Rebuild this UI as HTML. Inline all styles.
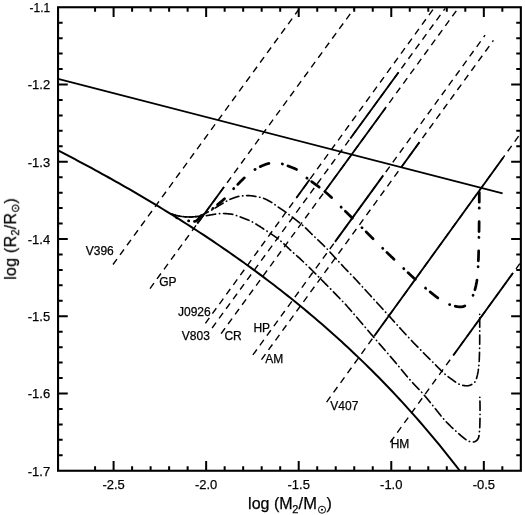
<!DOCTYPE html>
<html><head><meta charset="utf-8"><style>
html,body{margin:0;padding:0;background:#fff;}
svg{display:block;}
text{font-family:"Liberation Sans",sans-serif;fill:#000;stroke:#000;stroke-width:0.25px;}
</style></head><body>
<svg width="525" height="515" viewBox="0 0 525 515">
<rect width="525" height="515" fill="#fff"/>
<path d="M113.00,264.50 L299.66,8.30" stroke="#000" stroke-width="1.4" fill="none" stroke-dasharray="6.7 5.2"/>
<path d="M150.00,288.55 L354.28,8.30" stroke="#000" stroke-width="1.4" fill="none" stroke-dasharray="6.7 5.2"/>
<path d="M197.30,223.66 L224.00,187.03" stroke="#000" stroke-width="1.85" fill="none"/>
<path d="M205.40,323.34 L433.86,8.30" stroke="#000" stroke-width="1.4" fill="none" stroke-dasharray="6.7 5.2"/>
<path d="M296.50,197.72 L309.70,179.51" stroke="#000" stroke-width="1.85" fill="none"/>
<path d="M212.10,327.99 L445.23,8.30" stroke="#000" stroke-width="1.4" fill="none" stroke-dasharray="6.7 5.2"/>
<path d="M350.30,138.47 L398.60,72.24" stroke="#000" stroke-width="1.85" fill="none"/>
<path d="M221.10,333.64 L458.14,8.30" stroke="#000" stroke-width="1.4" fill="none" stroke-dasharray="6.7 5.2"/>
<path d="M324.30,192.00 L385.50,108.00" stroke="#000" stroke-width="1.85" fill="none"/>
<path d="M252.90,354.95 L485.10,35.21" stroke="#000" stroke-width="1.4" fill="none" stroke-dasharray="6.7 5.2"/>
<path d="M335.00,241.90 L383.30,175.39" stroke="#000" stroke-width="1.85" fill="none"/>
<path d="M261.50,359.58 L493.40,40.41" stroke="#000" stroke-width="1.4" fill="none" stroke-dasharray="6.7 5.2"/>
<path d="M401.30,167.17 L419.50,142.12" stroke="#000" stroke-width="1.85" fill="none"/>
<path d="M326.60,402.09 L519.80,134.55" stroke="#000" stroke-width="1.4" fill="none" stroke-dasharray="6.7 5.2"/>
<path d="M374.10,336.32 L503.10,157.68" stroke="#000" stroke-width="1.85" fill="none"/>
<path d="M390.30,442.23 L519.80,263.62" stroke="#000" stroke-width="1.4" fill="none" stroke-dasharray="6.7 5.2"/>
<path d="M453.40,355.20 L513.00,273.00" stroke="#000" stroke-width="1.85" fill="none"/>
<path d="M58.05,78.9 L502.6,193.3" stroke="#000" stroke-width="1.8" fill="none"/>
<path d="M58.05,150.48 L61.42,152.21 L64.80,153.95 L68.17,155.70 L71.55,157.46 L74.92,159.23 L78.30,161.01 L81.67,162.80 L85.04,164.61 L88.42,166.42 L91.79,168.24 L95.17,170.07 L98.54,171.91 L101.92,173.77 L105.29,175.63 L108.67,177.50 L112.04,179.39 L115.41,181.28 L118.79,183.19 L122.16,185.11 L125.54,187.03 L128.91,188.97 L132.29,190.92 L135.66,192.88 L139.03,194.86 L142.41,196.84 L145.78,198.84 L149.16,200.85 L152.53,202.86 L155.91,204.90 L159.28,206.94 L162.66,209.00 L166.03,211.06 L169.40,213.15 L172.78,215.24 L176.15,217.35 L179.53,219.47 L182.90,221.60 L186.28,223.75 L189.65,225.91 L193.02,228.08 L196.40,230.27 L199.77,232.48 L203.15,234.69 L206.52,236.93 L209.90,239.17 L213.27,241.44 L216.65,243.72 L220.02,246.01 L223.39,248.32 L226.77,250.65 L230.14,252.99 L233.52,255.35 L236.89,257.73 L240.27,260.12 L243.64,262.53 L247.01,264.96 L250.39,267.41 L253.76,269.88 L257.14,272.36 L260.51,274.87 L263.89,277.39 L267.26,279.93 L270.64,282.50 L274.01,285.08 L277.38,287.69 L280.76,290.31 L284.13,292.96 L287.51,295.63 L290.88,298.32 L294.26,301.03 L297.63,303.77 L301.00,306.53 L304.38,309.31 L307.75,312.12 L311.13,314.95 L314.50,317.80 L317.88,320.69 L321.25,323.59 L324.63,326.52 L328.00,329.48 L331.37,332.47 L334.75,335.48 L338.12,338.52 L341.50,341.59 L344.87,344.69 L348.25,347.82 L351.62,350.97 L354.99,354.16 L358.37,357.37 L361.74,360.62 L365.12,363.90 L368.49,367.21 L371.87,370.55 L375.24,373.93 L378.62,377.33 L381.99,380.78 L385.36,384.25 L388.74,387.76 L392.11,391.31 L395.49,394.89 L398.86,398.51 L402.24,402.17 L405.61,405.86 L408.98,409.59 L412.36,413.36 L415.73,417.17 L419.11,421.02 L422.48,424.90 L425.86,428.83 L429.23,432.80 L432.61,436.81 L435.98,440.87 L439.35,444.97 L442.73,449.11 L446.10,453.29 L449.48,457.53 L452.85,461.80 L456.23,466.12 L459.60,470.49" stroke="#000" stroke-width="2" fill="none"/>
<path d="M176.70,217.71 L176.77,217.75 L176.79,217.76" stroke="#000" stroke-width="2.75" fill="none" stroke-linecap="round"/>
<path d="M188.50,220.89 L188.56,220.90 L188.70,220.92 L188.75,220.93" stroke="#000" stroke-width="2.75" fill="none" stroke-linecap="round"/>
<path d="M194.45,221.45 L194.47,221.45 L194.54,221.43 L194.61,221.42 L194.69,221.41 L194.76,221.40 L194.82,221.38 L194.89,221.37 L194.96,221.35 L195.03,221.33 L195.10,221.32 L195.17,221.30 L195.23,221.28 L195.30,221.26 L195.37,221.24 L195.43,221.22 L195.50,221.20 L195.57,221.18 L195.63,221.16 L195.69,221.13 L195.76,221.11 L195.82,221.09 L195.88,221.06 L195.93,221.04 L195.99,221.01 L196.05,220.98 L196.10,220.96 L196.16,220.93 L196.21,220.90 L196.26,220.87 L196.32,220.84 L196.37,220.81 L196.42,220.78 L196.47,220.75 L196.52,220.72 L196.57,220.69 L196.62,220.65 L196.67,220.62 L196.72,220.58 L196.77,220.54 L196.82,220.51 L196.87,220.47 L196.91,220.43 L196.96,220.38 L197.01,220.34 L197.06,220.30 L197.12,220.25 L197.17,220.21 L197.22,220.16 L197.27,220.11 L197.32,220.07 L197.38,220.01 L197.43,219.96 L197.49,219.91 L197.54,219.86 L197.60,219.80 L197.66,219.74 L197.71,219.68 L197.77,219.62 L197.83,219.56 L197.88,219.49 L197.94,219.43 L197.99,219.36 L198.05,219.29 L198.10,219.22 L198.16,219.14 L198.21,219.07 L198.26,218.99 L198.32,218.92 L198.37,218.84 L198.43,218.76 L198.48,218.68 L198.54,218.60 L198.60,218.52 L198.65,218.44 L198.71,218.36 L198.77,218.28 L198.83,218.19 L198.89,218.11 L198.95,218.03 L199.01,217.94 L199.07,217.86 L199.13,217.78 L199.20,217.69 L199.26,217.61 L199.33,217.53 L199.40,217.44 L199.47,217.36 L199.54,217.28 L199.61,217.20 L199.69,217.12 L199.76,217.04 L199.84,216.96 L199.92,216.88 L200.00,216.80 L200.08,216.72 L200.17,216.65 L200.25,216.57 L200.34,216.49 L200.42,216.42 L200.51,216.34 L200.60,216.26 L200.69,216.19 L200.78,216.11 L200.87,216.03 L200.97,215.96 L201.06,215.88 L201.16,215.80 L201.25,215.73 L201.35,215.65 L201.41,215.61" stroke="#000" stroke-width="2.75" fill="none" stroke-linecap="round"/>
<path d="M212.81,208.51 L212.84,208.48 L212.96,208.39 L213.01,208.36" stroke="#000" stroke-width="2.75" fill="none" stroke-linecap="round"/>
<path d="M217.46,204.73 L217.50,204.70 L217.62,204.59 L217.74,204.49 L217.86,204.39 L217.98,204.28 L218.10,204.17 L218.23,204.07 L218.35,203.96 L218.48,203.85 L218.61,203.74 L218.74,203.63 L218.87,203.51 L219.00,203.40 L219.13,203.29 L219.27,203.17 L219.40,203.06 L219.53,202.95 L219.66,202.85 L219.80,202.74 L219.93,202.63 L220.06,202.52 L220.20,202.42 L220.33,202.31 L220.46,202.20 L220.60,202.10 L220.73,201.99 L220.87,201.88 L221.01,201.77 L221.14,201.66 L221.28,201.55 L221.42,201.44 L221.57,201.32 L221.71,201.20 L221.85,201.09 L222.00,200.96 L222.15,200.84 L222.30,200.72 L222.45,200.59 L222.60,200.46 L222.75,200.32 L222.91,200.18 L223.07,200.04 L223.23,199.90 L223.40,199.75 L223.56,199.60 L223.73,199.44 L223.90,199.28 L224.08,199.11 L224.25,198.94 L224.43,198.77 L224.54,198.66" stroke="#000" stroke-width="2.75" fill="none" stroke-linecap="round"/>
<path d="M233.59,188.71 L233.60,188.70 L233.76,188.53" stroke="#000" stroke-width="2.75" fill="none" stroke-linecap="round"/>
<path d="M237.75,184.39 L237.85,184.28 L238.15,183.98 L238.45,183.67 L238.75,183.36 L239.05,183.05 L239.36,182.74 L239.66,182.43 L239.97,182.12 L240.27,181.82 L240.58,181.51 L240.88,181.21 L241.19,180.91 L241.49,180.61 L241.79,180.32 L242.09,180.02 L242.39,179.73 L242.69,179.45 L242.99,179.16 L243.28,178.88 L243.57,178.61 L243.86,178.34 L244.15,178.07 L244.39,177.85" stroke="#000" stroke-width="2.75" fill="none" stroke-linecap="round"/>
<path d="M254.95,169.53 L255.06,169.46 L255.16,169.39" stroke="#000" stroke-width="2.75" fill="none" stroke-linecap="round"/>
<path d="M260.19,166.63 L260.25,166.61 L260.47,166.50 L260.70,166.40 L260.92,166.30 L261.13,166.21 L261.35,166.11 L261.57,166.02 L261.78,165.93 L261.99,165.83 L262.20,165.75 L262.41,165.66 L262.62,165.57 L262.82,165.49 L263.02,165.40 L263.22,165.32 L263.42,165.24 L263.62,165.16 L263.81,165.08 L264.00,165.00 L264.19,164.92 L264.37,164.85 L264.55,164.78 L264.73,164.71 L264.91,164.64 L265.08,164.57 L265.25,164.51 L265.42,164.44 L265.59,164.38 L265.75,164.32 L265.92,164.27 L266.08,164.21 L266.23,164.16 L266.39,164.11 L266.54,164.06 L266.70,164.01 L266.85,163.96 L267.00,163.92 L267.15,163.87 L267.30,163.83 L267.45,163.79 L267.59,163.75 L267.74,163.71 L267.89,163.67 L268.03,163.63 L268.18,163.60 L268.32,163.56 L268.47,163.53 L268.61,163.49 L268.76,163.46 L268.91,163.43 L268.93,163.42" stroke="#000" stroke-width="2.75" fill="none" stroke-linecap="round"/>
<path d="M282.24,163.94 L282.31,163.96 L282.48,164.01" stroke="#000" stroke-width="2.75" fill="none" stroke-linecap="round"/>
<path d="M287.91,165.90 L288.03,165.94 L288.30,166.05 L288.58,166.15 L288.85,166.26 L289.12,166.36 L289.38,166.46 L289.65,166.56 L289.90,166.66 L290.16,166.76 L290.41,166.86 L290.65,166.96 L290.89,167.05 L291.13,167.15 L291.36,167.24 L291.58,167.33 L291.79,167.42 L292.00,167.50 L292.20,167.58 L292.39,167.66 L292.58,167.73 L292.76,167.80 L292.94,167.87 L293.11,167.94 L293.28,168.00 L293.44,168.06 L293.59,168.12 L293.75,168.18 L293.90,168.23 L294.04,168.29 L294.19,168.34 L294.33,168.40 L294.46,168.45 L294.60,168.51 L294.74,168.56 L294.87,168.62 L295.00,168.67 L295.13,168.73 L295.27,168.79 L295.40,168.85 L295.53,168.91 L295.67,168.97 L295.80,169.04 L295.94,169.11 L296.08,169.18 L296.22,169.26 L296.36,169.34 L296.50,169.42 L296.53,169.44" stroke="#000" stroke-width="2.75" fill="none" stroke-linecap="round"/>
<path d="M306.84,178.03 L307.04,178.19" stroke="#000" stroke-width="2.75" fill="none" stroke-linecap="round"/>
<path d="M311.66,181.62 L311.88,181.78 L312.29,182.08 L312.70,182.37 L313.11,182.67 L313.53,182.97 L313.94,183.27 L314.36,183.57 L314.78,183.87 L315.19,184.17 L315.61,184.47 L316.03,184.77 L316.44,185.07 L316.85,185.37 L317.26,185.67 L317.67,185.97 L318.07,186.27 L318.47,186.56 L318.87,186.86 L319.20,187.10" stroke="#000" stroke-width="2.75" fill="none" stroke-linecap="round"/>
<path d="M324.82,191.55 L325.00,191.71 L325.31,191.96 L325.61,192.21 L325.91,192.47 L326.20,192.72 L326.50,192.97 L326.79,193.22 L327.08,193.47 L327.37,193.72 L327.65,193.96 L327.93,194.21 L328.22,194.46 L328.49,194.70 L328.77,194.95 L329.05,195.19 L329.32,195.43 L329.59,195.68 L329.86,195.92 L330.13,196.16 L330.40,196.40 L330.66,196.64 L330.93,196.89 L331.19,197.13 L331.45,197.37 L331.60,197.50" stroke="#000" stroke-width="2.75" fill="none" stroke-linecap="round"/>
<path d="M341.06,207.05 L341.19,207.19 L341.23,207.23" stroke="#000" stroke-width="2.75" fill="none" stroke-linecap="round"/>
<path d="M345.33,211.26 L345.46,211.39 L345.77,211.69 L346.08,211.99 L346.40,212.29 L346.71,212.60 L347.03,212.90 L347.34,213.21 L347.66,213.52 L347.97,213.82 L348.29,214.13 L348.60,214.43 L348.92,214.73 L349.23,215.04 L349.54,215.34 L349.85,215.64 L350.16,215.93 L350.46,216.23 L350.76,216.52 L351.06,216.81 L351.35,217.10 L351.65,217.38 L351.93,217.66 L352.22,217.94 L352.38,218.09" stroke="#000" stroke-width="2.75" fill="none" stroke-linecap="round"/>
<path d="M361.90,227.60 L362.00,227.70 L362.07,227.77" stroke="#000" stroke-width="2.75" fill="none" stroke-linecap="round"/>
<path d="M366.14,231.84 L366.20,231.90 L366.53,232.23 L366.85,232.56 L367.18,232.88 L367.51,233.21 L367.84,233.54 L368.16,233.87 L368.49,234.20 L368.82,234.53 L369.15,234.86 L369.47,235.18 L369.80,235.51 L370.12,235.83 L370.44,236.15 L370.76,236.47 L371.08,236.78 L371.39,237.10 L371.70,237.40 L372.00,237.71 L372.30,238.01 L372.60,238.30 L372.89,238.59 L373.08,238.78" stroke="#000" stroke-width="2.75" fill="none" stroke-linecap="round"/>
<path d="M382.64,248.24 L382.70,248.30 L382.82,248.41" stroke="#000" stroke-width="2.75" fill="none" stroke-linecap="round"/>
<path d="M386.94,252.42 L387.37,252.84 L387.91,253.37 L388.47,253.90 L389.03,254.45 L389.61,255.01 L390.18,255.57 L390.77,256.13 L391.36,256.70 L391.95,257.28 L392.55,257.85 L393.14,258.43 L393.74,259.01 L393.99,259.25" stroke="#000" stroke-width="2.75" fill="none" stroke-linecap="round"/>
<path d="M403.69,268.57 L403.81,268.69 L403.87,268.75" stroke="#000" stroke-width="2.75" fill="none" stroke-linecap="round"/>
<path d="M408.05,272.69 L408.12,272.75 L408.43,273.04 L408.74,273.33 L409.04,273.61 L409.34,273.89 L409.64,274.16 L409.93,274.43 L410.21,274.69 L410.49,274.95 L410.77,275.21 L411.05,275.47 L411.33,275.72 L411.60,275.97 L411.87,276.21 L412.14,276.46 L412.41,276.71 L412.68,276.95 L412.95,277.19 L413.21,277.43 L413.48,277.68 L413.75,277.92 L414.02,278.16 L414.29,278.41 L414.57,278.65 L414.84,278.90 L415.12,279.15 L415.30,279.31" stroke="#000" stroke-width="2.75" fill="none" stroke-linecap="round"/>
<path d="M425.50,288.08 L425.69,288.24" stroke="#000" stroke-width="2.75" fill="none" stroke-linecap="round"/>
<path d="M430.13,291.89 L430.32,292.04 L430.70,292.36 L431.08,292.67 L431.47,292.98 L431.85,293.29 L432.24,293.61 L432.62,293.92 L433.01,294.23 L433.40,294.54 L433.78,294.84 L434.16,295.15 L434.54,295.45 L434.92,295.74 L435.29,296.04 L435.66,296.33 L436.03,296.61 L436.39,296.89 L436.75,297.16 L437.11,297.43 L437.45,297.69 L437.80,297.95 L437.83,297.97" stroke="#000" stroke-width="2.75" fill="none" stroke-linecap="round"/>
<path d="M449.51,304.54 L449.67,304.59 L449.75,304.62" stroke="#000" stroke-width="2.75" fill="none" stroke-linecap="round"/>
<path d="M455.26,306.25 L455.31,306.27 L455.58,306.32 L455.84,306.38 L456.10,306.43 L456.36,306.48 L456.62,306.52 L456.87,306.57 L457.12,306.60 L457.37,306.64 L457.61,306.67 L457.85,306.70 L458.09,306.73 L458.32,306.75 L458.55,306.77 L458.78,306.79 L459.00,306.80 L459.22,306.81 L459.43,306.82 L459.64,306.83 L459.85,306.84 L460.05,306.84 L460.25,306.85 L460.45,306.85 L460.64,306.85 L460.83,306.85 L461.02,306.85 L461.20,306.85 L461.39,306.84 L461.57,306.83 L461.75,306.82 L461.92,306.80 L462.10,306.78 L462.27,306.76 L462.44,306.74 L462.61,306.71 L462.78,306.68 L462.95,306.64 L463.12,306.60 L463.29,306.56 L463.46,306.51 L463.62,306.45 L463.79,306.39 L463.96,306.33 L464.12,306.26 L464.29,306.18 L464.45,306.10 L464.62,306.02 L464.79,305.93 L464.86,305.88" stroke="#000" stroke-width="2.75" fill="none" stroke-linecap="round"/>
<path d="M473.02,295.43 L473.04,295.37 L473.11,295.20" stroke="#000" stroke-width="2.75" fill="none" stroke-linecap="round"/>
<path d="M474.92,289.74 L474.96,289.56 L475.08,289.13 L475.19,288.70 L475.30,288.27 L475.41,287.83 L475.52,287.39 L475.62,286.95 L475.72,286.51 L475.83,286.06 L475.93,285.62 L476.02,285.17 L476.12,284.72 L476.21,284.27 L476.30,283.83 L476.39,283.38 L476.48,282.93 L476.56,282.48 L476.65,282.04 L476.73,281.59 L476.81,281.15 L476.88,280.71 L476.96,280.27 L476.98,280.15" stroke="#000" stroke-width="2.75" fill="none" stroke-linecap="round"/>
<path d="M478.11,266.76 L478.12,266.51" stroke="#000" stroke-width="2.75" fill="none" stroke-linecap="round"/>
<path d="M478.35,260.76 L478.37,260.47 L478.39,259.95 L478.41,259.43 L478.43,258.90 L478.45,258.37 L478.47,257.84 L478.49,257.30 L478.50,256.76 L478.52,256.21 L478.54,255.67 L478.56,255.12 L478.57,254.57 L478.59,254.01 L478.60,253.45 L478.62,252.89 L478.63,252.33 L478.65,251.76 L478.66,251.19 L478.67,250.95" stroke="#000" stroke-width="2.75" fill="none" stroke-linecap="round"/>
<path d="M478.94,237.50 L478.95,237.25" stroke="#000" stroke-width="2.75" fill="none" stroke-linecap="round"/>
<path d="M479.03,231.51 L479.04,231.23 L479.05,230.58 L479.05,229.93 L479.06,229.28 L479.07,228.63 L479.08,227.98 L479.08,227.33 L479.09,226.68 L479.10,226.02 L479.11,225.37 L479.11,224.72 L479.12,224.06 L479.13,223.41 L479.13,222.75 L479.14,222.10 L479.14,221.69" stroke="#000" stroke-width="2.75" fill="none" stroke-linecap="round"/>
<path d="M479.24,208.24 L479.24,208.05 L479.24,207.99" stroke="#000" stroke-width="2.75" fill="none" stroke-linecap="round"/>
<path d="M479.26,202.24 L479.27,201.78 L479.27,201.15 L479.27,200.53 L479.27,199.90 L479.27,199.27 L479.27,198.65 L479.28,198.02 L479.28,197.40 L479.28,196.77 L479.28,196.14 L479.28,195.52 L479.28,194.89 L479.29,194.26 L479.29,193.64 L479.29,193.01 L479.29,192.43" stroke="#000" stroke-width="2.75" fill="none" stroke-linecap="round"/>
<path d="M170.78,213.76 L170.90,213.79 L171.03,213.84 L171.15,213.88 L171.28,213.92 L171.41,213.97 L171.54,214.01 L171.67,214.05 L171.79,214.10 L171.92,214.14 L172.05,214.18 L172.18,214.22 L172.31,214.27 L172.44,214.31 L172.56,214.35 L172.69,214.39 L172.82,214.44 L172.95,214.48 L173.08,214.52 L173.21,214.56 L173.33,214.60 L173.46,214.64 L173.59,214.69 L173.72,214.73 L173.85,214.76 L173.97,214.80 L174.10,214.84 L174.23,214.88 L174.36,214.92 L174.49,214.96 L174.62,214.99 L174.74,215.03 L174.87,215.07 L175.00,215.10 L175.13,215.13 L175.14,215.14" stroke="#000" stroke-width="1.65" fill="none" stroke-linecap="round"/>
<path d="M178.79,215.98 L178.85,215.99 L178.97,216.02 L179.10,216.04 L179.14,216.05" stroke="#000" stroke-width="1.65" fill="none" stroke-linecap="round"/>
<path d="M182.85,216.60 L182.95,216.61 L183.08,216.62 L183.21,216.63 L183.33,216.65 L183.46,216.66 L183.59,216.67 L183.72,216.69 L183.85,216.70 L183.97,216.71 L184.10,216.72 L184.23,216.73 L184.36,216.75 L184.49,216.76 L184.62,216.77 L184.74,216.78 L184.87,216.79 L185.00,216.80 L185.13,216.81 L185.26,216.82 L185.39,216.83 L185.52,216.84 L185.65,216.85 L185.78,216.86 L185.91,216.87 L186.04,216.87 L186.17,216.88 L186.31,216.89 L186.44,216.90 L186.57,216.90 L186.70,216.91 L186.84,216.92 L186.97,216.92 L187.10,216.93 L187.23,216.94 L187.37,216.94 L187.50,216.95 L187.63,216.95 L187.76,216.96 L187.89,216.96 L188.02,216.97 L188.15,216.97 L188.28,216.97 L188.41,216.98 L188.54,216.98 L188.66,216.98 L188.79,216.99 L188.91,216.99 L189.04,216.99 L189.16,216.99 L189.29,217.00 L189.41,217.00 L189.53,217.00 L189.65,217.00 L189.77,217.00 L189.88,217.00 L190.00,217.00 L190.11,217.00 L190.23,217.00 L190.34,217.00 L190.45,217.00 L190.56,217.00 L190.66,217.00 L190.77,216.99 L190.87,216.99 L190.97,216.99 L191.08,216.99 L191.18,216.98 L191.28,216.98 L191.38,216.98 L191.48,216.97 L191.57,216.97 L191.67,216.97 L191.77,216.96 L191.87,216.96 L191.96,216.95 L192.06,216.95 L192.16,216.94 L192.16,216.94" stroke="#000" stroke-width="1.65" fill="none" stroke-linecap="round"/>
<path d="M195.90,216.62 L195.99,216.61 L196.12,216.60 L196.24,216.59" stroke="#000" stroke-width="1.65" fill="none" stroke-linecap="round"/>
<path d="M199.92,215.89 L199.96,215.87 L200.03,215.85 L200.11,215.82 L200.19,215.79 L200.26,215.76 L200.34,215.73 L200.41,215.70 L200.49,215.67 L200.56,215.64 L200.64,215.61 L200.71,215.58 L200.78,215.55 L200.86,215.51 L200.93,215.48 L201.01,215.45 L201.08,215.41 L201.16,215.38 L201.24,215.34 L201.32,215.31 L201.40,215.27 L201.48,215.23 L201.56,215.20 L201.65,215.16 L201.73,215.12 L201.82,215.08 L201.91,215.04 L202.00,215.00 L202.09,214.96 L202.19,214.92 L202.28,214.87 L202.37,214.83 L202.47,214.79 L202.56,214.74 L202.66,214.69 L202.76,214.65 L202.85,214.60 L202.95,214.55 L203.05,214.51 L203.15,214.46 L203.25,214.41 L203.35,214.36 L203.45,214.31 L203.55,214.26 L203.65,214.21 L203.75,214.15 L203.85,214.10 L203.96,214.05 L204.06,214.00 L204.16,213.94 L204.27,213.89 L204.37,213.83 L204.48,213.78 L204.59,213.73 L204.69,213.67 L204.80,213.62 L204.91,213.56 L205.01,213.51 L205.12,213.45 L205.23,213.39 L205.34,213.34 L205.45,213.28 L205.56,213.23 L205.67,213.17 L205.78,213.11 L205.89,213.06 L206.00,213.00 L206.11,212.94 L206.23,212.89 L206.34,212.83 L206.46,212.77 L206.57,212.71 L206.69,212.65 L206.81,212.59 L206.93,212.54 L207.05,212.48 L207.17,212.42 L207.29,212.36 L207.41,212.29 L207.53,212.23 L207.65,212.17 L207.77,212.11 L207.90,212.05 L208.02,211.99 L208.15,211.92 L208.27,211.86 L208.32,211.84" stroke="#000" stroke-width="1.65" fill="none" stroke-linecap="round"/>
<path d="M211.63,210.08 L211.71,210.04 L211.81,209.98 L211.92,209.92 L211.94,209.91" stroke="#000" stroke-width="1.65" fill="none" stroke-linecap="round"/>
<path d="M215.17,208.00 L215.24,207.96 L215.36,207.88 L215.48,207.81 L215.60,207.73 L215.72,207.66 L215.84,207.58 L215.97,207.51 L216.09,207.43 L216.21,207.35 L216.34,207.28 L216.46,207.20 L216.59,207.12 L216.71,207.04 L216.84,206.97 L216.96,206.89 L217.09,206.81 L217.21,206.73 L217.34,206.65 L217.47,206.57 L217.60,206.49 L217.73,206.40 L217.86,206.32 L217.99,206.24 L218.12,206.16 L218.25,206.08 L218.38,206.00 L218.51,205.91 L218.64,205.83 L218.78,205.75 L218.91,205.67 L219.04,205.58 L219.18,205.50 L219.31,205.42 L219.45,205.33 L219.59,205.25 L219.72,205.17 L219.86,205.08 L220.00,205.00 L220.14,204.92 L220.28,204.83 L220.43,204.74 L220.58,204.66 L220.73,204.57 L220.88,204.48 L221.03,204.39 L221.19,204.29 L221.34,204.20 L221.50,204.11 L221.66,204.01 L221.82,203.92 L221.98,203.83 L222.14,203.73 L222.30,203.64 L222.47,203.54 L222.63,203.45 L222.79,203.35 L222.95,203.26 L223.11,203.17 L223.14,203.15" stroke="#000" stroke-width="1.65" fill="none" stroke-linecap="round"/>
<path d="M226.37,201.25 L226.37,201.25 L226.45,201.20 L226.53,201.15 L226.60,201.11 L226.66,201.06" stroke="#000" stroke-width="1.65" fill="none" stroke-linecap="round"/>
<path d="M229.99,199.36 L230.11,199.31 L230.27,199.24 L230.43,199.18 L230.60,199.11 L230.77,199.04 L230.94,198.98 L231.11,198.91 L231.29,198.84 L231.46,198.78 L231.64,198.71 L231.81,198.64 L231.99,198.57 L232.17,198.51 L232.35,198.44 L232.52,198.37 L232.70,198.31 L232.88,198.24 L233.05,198.18 L233.23,198.12 L233.40,198.05 L233.57,197.99 L233.74,197.93 L233.91,197.87 L234.07,197.82 L234.24,197.76 L234.40,197.70 L234.55,197.65 L234.70,197.60 L234.85,197.55 L235.00,197.50 L235.14,197.45 L235.28,197.41 L235.41,197.36 L235.54,197.32 L235.67,197.27 L235.79,197.23 L235.92,197.19 L236.03,197.15 L236.15,197.11 L236.27,197.07 L236.38,197.03 L236.49,197.00 L236.60,196.96 L236.71,196.92 L236.82,196.89 L236.93,196.85 L237.03,196.82 L237.14,196.79 L237.25,196.75 L237.36,196.72 L237.47,196.69 L237.58,196.66 L237.70,196.63 L237.81,196.60 L237.93,196.57 L238.04,196.54 L238.17,196.51 L238.29,196.48 L238.42,196.46 L238.55,196.43 L238.68,196.40 L238.82,196.38 L238.82,196.38" stroke="#000" stroke-width="1.65" fill="none" stroke-linecap="round"/>
<path d="M242.54,195.89 L242.74,195.87 L242.88,195.85" stroke="#000" stroke-width="1.65" fill="none" stroke-linecap="round"/>
<path d="M246.63,195.61 L246.72,195.61 L246.95,195.60 L247.18,195.60 L247.41,195.59 L247.63,195.59 L247.85,195.59 L248.07,195.59 L248.29,195.60 L248.50,195.60 L248.71,195.61 L248.92,195.61 L249.13,195.62 L249.34,195.63 L249.55,195.64 L249.76,195.66 L249.96,195.67 L250.17,195.69 L250.38,195.70 L250.58,195.72 L250.79,195.74 L250.99,195.76 L251.20,195.78 L251.40,195.80 L251.60,195.83 L251.81,195.85 L252.01,195.88 L252.21,195.90 L252.41,195.93 L252.61,195.96 L252.81,195.99 L253.01,196.02 L253.22,196.05 L253.42,196.08 L253.62,196.11 L253.81,196.14 L254.01,196.17 L254.21,196.21 L254.41,196.24 L254.61,196.28 L254.81,196.31 L255.01,196.34 L255.21,196.38 L255.41,196.42 L255.61,196.45 L255.80,196.49 L255.89,196.51" stroke="#000" stroke-width="1.65" fill="none" stroke-linecap="round"/>
<path d="M259.57,197.21 L259.69,197.23 L259.88,197.27 L259.92,197.28" stroke="#000" stroke-width="1.65" fill="none" stroke-linecap="round"/>
<path d="M263.52,198.32 L263.59,198.34 L263.80,198.42 L264.00,198.50 L264.21,198.58 L264.42,198.67 L264.63,198.76 L264.85,198.85 L265.07,198.95 L265.29,199.05 L265.51,199.15 L265.73,199.26 L265.96,199.37 L266.19,199.48 L266.42,199.59 L266.65,199.70 L266.88,199.82 L267.11,199.94 L267.35,200.06 L267.58,200.18 L267.81,200.30 L268.04,200.42 L268.27,200.54 L268.50,200.67 L268.73,200.79 L268.96,200.92 L269.19,201.04 L269.41,201.17 L269.63,201.29 L269.85,201.41 L270.07,201.54 L270.28,201.66 L270.50,201.78 L270.70,201.90 L270.91,202.02 L271.11,202.14 L271.31,202.25 L271.50,202.37 L271.69,202.48 L271.82,202.55" stroke="#000" stroke-width="1.65" fill="none" stroke-linecap="round"/>
<path d="M274.89,204.69 L274.99,204.76 L275.08,204.84 L275.16,204.91" stroke="#000" stroke-width="1.65" fill="none" stroke-linecap="round"/>
<path d="M278.20,207.11 L278.26,207.15 L278.45,207.27 L278.64,207.40 L278.83,207.52 L279.02,207.65 L279.22,207.77 L279.42,207.90 L279.62,208.03 L279.83,208.17 L280.04,208.30 L280.25,208.44 L280.46,208.58 L280.68,208.72 L280.91,208.87 L281.13,209.01 L281.36,209.17 L281.60,209.32 L281.84,209.48 L282.08,209.64 L282.33,209.81 L282.58,209.98 L282.83,210.15 L283.10,210.33 L283.36,210.51 L283.63,210.70 L283.91,210.89 L284.19,211.09 L284.48,211.30 L284.77,211.51 L285.07,211.72 L285.37,211.94 L285.68,212.17 L285.92,212.34" stroke="#000" stroke-width="1.65" fill="none" stroke-linecap="round"/>
<path d="M288.93,214.58 L289.21,214.79" stroke="#000" stroke-width="1.65" fill="none" stroke-linecap="round"/>
<path d="M292.20,217.04 L292.29,217.11 L292.73,217.44 L293.18,217.78 L293.62,218.12 L294.07,218.46 L294.51,218.81 L294.96,219.15 L295.41,219.50 L295.85,219.84 L296.29,220.18 L296.73,220.53 L297.16,220.87 L297.60,221.21 L298.02,221.54 L298.44,221.88 L298.86,222.21 L299.27,222.54 L299.57,222.78" stroke="#000" stroke-width="1.65" fill="none" stroke-linecap="round"/>
<path d="M302.45,225.17 L302.57,225.27 L302.72,225.40" stroke="#000" stroke-width="1.65" fill="none" stroke-linecap="round"/>
<path d="M305.50,227.91 L305.51,227.93 L305.78,228.19 L306.05,228.44 L306.31,228.69 L306.57,228.94 L306.82,229.19 L307.08,229.44 L307.33,229.69 L307.58,229.94 L307.83,230.19 L308.08,230.43 L308.33,230.68 L308.58,230.93 L308.83,231.19 L309.09,231.44 L309.34,231.69 L309.59,231.94 L309.85,232.20 L310.11,232.46 L310.37,232.72 L310.63,232.98 L310.90,233.25 L311.17,233.51 L311.45,233.79 L311.73,234.06 L312.01,234.34 L312.14,234.46" stroke="#000" stroke-width="1.65" fill="none" stroke-linecap="round"/>
<path d="M314.86,237.05 L315.08,237.25 L315.12,237.29" stroke="#000" stroke-width="1.65" fill="none" stroke-linecap="round"/>
<path d="M317.85,239.86 L318.01,240.01 L318.34,240.32 L318.67,240.64 L319.00,240.95 L319.34,241.27 L319.67,241.58 L320.00,241.90 L320.33,242.22 L320.66,242.53 L321.00,242.85 L321.33,243.17 L321.66,243.49 L321.99,243.81 L322.31,244.13 L322.64,244.45 L322.97,244.77 L323.29,245.09 L323.61,245.41 L323.94,245.73 L324.26,246.04 L324.55,246.34" stroke="#000" stroke-width="1.65" fill="none" stroke-linecap="round"/>
<path d="M327.16,249.04 L327.34,249.23 L327.40,249.29" stroke="#000" stroke-width="1.65" fill="none" stroke-linecap="round"/>
<path d="M329.94,252.05 L329.99,252.11 L330.29,252.43 L330.58,252.75 L330.87,253.08 L331.17,253.40 L331.46,253.72 L331.75,254.05 L332.04,254.37 L332.34,254.70 L332.63,255.03 L332.93,255.36 L333.23,255.68 L333.52,256.01 L333.82,256.34 L334.12,256.68 L334.42,257.01 L334.73,257.34 L335.03,257.67 L335.34,258.01 L335.65,258.35 L335.96,258.68 L336.21,258.96" stroke="#000" stroke-width="1.65" fill="none" stroke-linecap="round"/>
<path d="M338.77,261.70 L338.91,261.85 L339.01,261.95" stroke="#000" stroke-width="1.65" fill="none" stroke-linecap="round"/>
<path d="M341.57,264.69 L341.78,264.91 L342.15,265.30 L342.52,265.69 L342.88,266.08 L343.25,266.47 L343.61,266.85 L343.97,267.24 L344.34,267.62 L344.69,268.00 L345.05,268.37 L345.40,268.75 L345.75,269.11 L346.09,269.48 L346.43,269.84 L346.77,270.19 L347.10,270.54 L347.42,270.88 L347.74,271.21 L347.98,271.47" stroke="#000" stroke-width="1.65" fill="none" stroke-linecap="round"/>
<path d="M350.56,274.19 L350.63,274.26 L350.80,274.43 L350.81,274.44" stroke="#000" stroke-width="1.65" fill="none" stroke-linecap="round"/>
<path d="M353.48,277.07 L353.58,277.18 L353.86,277.48 L354.17,277.81 L354.51,278.17 L354.88,278.57 L355.28,279.00 L355.72,279.48 L356.20,280.00 L356.72,280.56 L357.28,281.17 L357.88,281.82 L358.51,282.52 L359.18,283.25 L359.80,283.92" stroke="#000" stroke-width="1.65" fill="none" stroke-linecap="round"/>
<path d="M362.34,286.69 L362.57,286.95" stroke="#000" stroke-width="1.65" fill="none" stroke-linecap="round"/>
<path d="M365.10,289.72 L365.58,290.24 L366.48,291.22 L367.39,292.23 L368.32,293.24 L369.26,294.27 L370.21,295.31 L371.16,296.36 L371.39,296.61" stroke="#000" stroke-width="1.65" fill="none" stroke-linecap="round"/>
<path d="M373.92,299.38 L374.06,299.53 L374.16,299.64" stroke="#000" stroke-width="1.65" fill="none" stroke-linecap="round"/>
<path d="M376.68,302.41 L376.94,302.69 L377.90,303.74 L378.84,304.77 L379.77,305.80 L380.70,306.81 L381.60,307.80 L382.49,308.78 L382.97,309.30" stroke="#000" stroke-width="1.65" fill="none" stroke-linecap="round"/>
<path d="M385.49,312.07 L385.73,312.33" stroke="#000" stroke-width="1.65" fill="none" stroke-linecap="round"/>
<path d="M388.26,315.10 L388.80,315.70 L389.47,316.43 L390.12,317.15 L390.77,317.86 L391.40,318.56 L392.03,319.25 L392.64,319.92 L393.24,320.59 L393.83,321.24 L394.42,321.89 L394.53,322.01" stroke="#000" stroke-width="1.65" fill="none" stroke-linecap="round"/>
<path d="M397.04,324.79 L397.20,324.96 L397.28,325.05" stroke="#000" stroke-width="1.65" fill="none" stroke-linecap="round"/>
<path d="M399.79,327.83 L400.27,328.37 L400.76,328.91 L401.24,329.44 L401.72,329.96 L402.18,330.48 L402.65,330.99 L403.11,331.50 L403.56,332.00 L404.01,332.49 L404.45,332.98 L404.89,333.46 L405.33,333.94 L405.76,334.41 L406.06,334.74" stroke="#000" stroke-width="1.65" fill="none" stroke-linecap="round"/>
<path d="M408.60,337.50 L408.70,337.60 L408.84,337.75" stroke="#000" stroke-width="1.65" fill="none" stroke-linecap="round"/>
<path d="M411.41,340.49 L411.70,340.79 L412.04,341.15 L412.38,341.50 L412.70,341.84 L413.02,342.18 L413.34,342.50 L413.65,342.83 L413.96,343.14 L414.26,343.45 L414.56,343.76 L414.85,344.06 L415.14,344.36 L415.43,344.65 L415.72,344.94 L416.00,345.23 L416.28,345.52 L416.57,345.81 L416.85,346.09 L417.13,346.37 L417.41,346.66 L417.69,346.94 L417.92,347.17" stroke="#000" stroke-width="1.65" fill="none" stroke-linecap="round"/>
<path d="M420.55,349.84 L420.59,349.88 L420.79,350.09" stroke="#000" stroke-width="1.65" fill="none" stroke-linecap="round"/>
<path d="M423.42,352.77 L423.71,353.06 L424.03,353.38 L424.34,353.70 L424.65,354.02 L424.97,354.33 L425.28,354.65 L425.59,354.97 L425.91,355.28 L426.22,355.60 L426.53,355.91 L426.84,356.23 L427.16,356.54 L427.47,356.86 L427.78,357.17 L428.09,357.49 L428.40,357.80 L428.71,358.11 L429.02,358.42 L429.33,358.73 L429.64,359.04 L429.95,359.35 L429.99,359.39" stroke="#000" stroke-width="1.65" fill="none" stroke-linecap="round"/>
<path d="M432.64,362.04 L432.70,362.10 L432.89,362.29" stroke="#000" stroke-width="1.65" fill="none" stroke-linecap="round"/>
<path d="M435.54,364.94 L435.76,365.16 L436.07,365.47 L436.37,365.78 L436.68,366.09 L436.99,366.40 L437.30,366.71 L437.61,367.02 L437.92,367.33 L438.22,367.64 L438.53,367.94 L438.83,368.24 L439.13,368.54 L439.43,368.84 L439.73,369.14 L440.03,369.43 L440.32,369.72 L440.62,370.01 L440.91,370.30 L441.20,370.58 L441.48,370.85 L441.76,371.13 L442.04,371.40 L442.16,371.51" stroke="#000" stroke-width="1.65" fill="none" stroke-linecap="round"/>
<path d="M444.92,374.06 L445.11,374.23 L445.18,374.29" stroke="#000" stroke-width="1.65" fill="none" stroke-linecap="round"/>
<path d="M448.08,376.67 L448.17,376.74 L448.36,376.88 L448.54,377.02 L448.72,377.15 L448.90,377.29 L449.08,377.42 L449.26,377.55 L449.44,377.68 L449.62,377.81 L449.80,377.94 L449.98,378.07 L450.16,378.19 L450.34,378.32 L450.52,378.45 L450.70,378.58 L450.88,378.71 L451.06,378.84 L451.25,378.97 L451.43,379.10 L451.62,379.23 L451.81,379.36 L452.00,379.50 L452.19,379.64 L452.38,379.78 L452.58,379.91 L452.77,380.05 L452.96,380.19 L453.15,380.33 L453.34,380.47 L453.53,380.61 L453.72,380.75 L453.91,380.89 L454.10,381.03 L454.29,381.17 L454.47,381.30 L454.66,381.44 L454.85,381.58 L455.04,381.71 L455.23,381.85 L455.42,381.98 L455.61,382.11 L455.64,382.13" stroke="#000" stroke-width="1.65" fill="none" stroke-linecap="round"/>
<path d="M458.85,384.06 L459.02,384.13 L459.17,384.20" stroke="#000" stroke-width="1.65" fill="none" stroke-linecap="round"/>
<path d="M462.74,385.32 L462.84,385.34 L463.04,385.39 L463.25,385.42 L463.45,385.46 L463.65,385.50 L463.86,385.53 L464.06,385.56 L464.26,385.59 L464.46,385.62 L464.65,385.64 L464.85,385.67 L465.04,385.69 L465.23,385.71 L465.42,385.73 L465.61,385.74 L465.79,385.76 L465.97,385.77 L466.15,385.78 L466.33,385.79 L466.50,385.79 L466.67,385.80 L466.84,385.80 L467.00,385.80 L467.16,385.80 L467.32,385.79 L467.47,385.79 L467.63,385.78 L467.78,385.77 L467.93,385.75 L468.07,385.74 L468.22,385.72 L468.36,385.70 L468.50,385.67 L468.64,385.65 L468.78,385.62 L468.91,385.59 L469.05,385.56 L469.18,385.52 L469.31,385.49 L469.44,385.45 L469.57,385.41 L469.69,385.37 L469.82,385.33 L469.94,385.28 L470.06,385.24 L470.18,385.19 L470.30,385.14 L470.42,385.10 L470.54,385.04 L470.66,384.99 L470.77,384.94 L470.89,384.89 L471.00,384.83 L471.12,384.77 L471.23,384.72 L471.34,384.66 L471.45,384.60 L471.56,384.54 L471.67,384.48 L471.78,384.42 L471.78,384.42" stroke="#000" stroke-width="1.65" fill="none" stroke-linecap="round"/>
<path d="M474.74,382.15 L474.74,382.15 L474.82,382.05 L474.90,381.95 L474.95,381.88" stroke="#000" stroke-width="1.65" fill="none" stroke-linecap="round"/>
<path d="M476.50,378.48 L476.51,378.44 L476.56,378.26 L476.61,378.07 L476.67,377.89 L476.72,377.70 L476.77,377.51 L476.82,377.32 L476.87,377.13 L476.92,376.93 L476.97,376.74 L477.02,376.54 L477.07,376.35 L477.11,376.15 L477.16,375.96 L477.21,375.76 L477.25,375.56 L477.30,375.37 L477.34,375.17 L477.38,374.97 L477.43,374.78 L477.47,374.58 L477.51,374.39 L477.56,374.19 L477.60,374.00 L477.64,373.81 L477.68,373.62 L477.72,373.42 L477.76,373.23 L477.80,373.04 L477.84,372.84 L477.88,372.65 L477.91,372.46 L477.95,372.26 L477.99,372.07 L478.02,371.87 L478.06,371.68 L478.09,371.48 L478.12,371.28 L478.15,371.09 L478.19,370.89 L478.22,370.69 L478.25,370.49 L478.28,370.29 L478.31,370.09 L478.34,369.88 L478.37,369.68 L478.40,369.47 L478.41,369.36" stroke="#000" stroke-width="1.65" fill="none" stroke-linecap="round"/>
<path d="M478.84,365.63 L478.84,365.54 L478.87,365.31 L478.87,365.28" stroke="#000" stroke-width="1.65" fill="none" stroke-linecap="round"/>
<path d="M479.15,361.54 L479.16,361.38 L479.18,361.13 L479.19,360.88 L479.21,360.63 L479.22,360.37 L479.23,360.11 L479.24,359.85 L479.26,359.58 L479.27,359.31 L479.28,359.04 L479.29,358.76 L479.31,358.47 L479.32,358.18 L479.33,357.89 L479.34,357.59 L479.35,357.28 L479.37,356.97 L479.38,356.65 L479.39,356.33 L479.40,356.00 L479.41,355.67 L479.42,355.33 L479.43,354.99 L479.44,354.65 L479.46,354.31 L479.47,353.97 L479.48,353.62 L479.49,353.27 L479.50,352.92 L479.51,352.57 L479.51,352.22" stroke="#000" stroke-width="1.65" fill="none" stroke-linecap="round"/>
<path d="M479.60,348.47 L479.60,348.40 L479.60,348.12" stroke="#000" stroke-width="1.65" fill="none" stroke-linecap="round"/>
<path d="M479.66,344.37 L479.66,344.03 L479.67,343.56 L479.67,343.07 L479.68,342.58 L479.68,342.08 L479.69,341.57 L479.69,341.06 L479.70,340.53 L479.70,340.00 L479.70,339.46 L479.71,338.90 L479.71,338.33 L479.71,337.75 L479.71,337.15 L479.72,336.55 L479.72,335.94 L479.72,335.31 L479.72,335.04" stroke="#000" stroke-width="1.65" fill="none" stroke-linecap="round"/>
<path d="M479.72,331.29 L479.72,330.94" stroke="#000" stroke-width="1.65" fill="none" stroke-linecap="round"/>
<path d="M479.72,327.19 L479.72,326.57 L479.72,325.87 L479.71,325.16 L479.71,324.46 L479.71,323.75 L479.71,323.04 L479.71,322.33 L479.71,321.62 L479.71,320.91 L479.71,320.20 L479.71,319.50 L479.70,318.80 L479.70,318.10 L479.70,317.86" stroke="#000" stroke-width="1.65" fill="none" stroke-linecap="round"/>
<path d="M479.70,314.52 L479.70,314.42" stroke="#000" stroke-width="1.65" fill="none" stroke-linecap="round"/>
<path d="M172.31,214.27 L172.44,214.31 L172.56,214.35 L172.69,214.39 L172.82,214.44 L172.95,214.48 L173.08,214.52 L173.21,214.56 L173.33,214.60 L173.46,214.64 L173.59,214.69 L173.72,214.73 L173.85,214.76 L173.97,214.80 L174.10,214.84 L174.23,214.88 L174.36,214.92 L174.49,214.96 L174.62,214.99 L174.74,215.03 L174.87,215.07 L175.00,215.10 L175.13,215.13 L175.26,215.17 L175.38,215.20 L175.51,215.24 L175.64,215.27 L175.77,215.30 L175.90,215.33 L176.03,215.37 L176.15,215.40 L176.28,215.43 L176.41,215.46 L176.54,215.49 L176.67,215.52 L176.79,215.55 L176.92,215.58 L177.05,215.61 L177.18,215.64 L177.31,215.67 L177.44,215.70 L177.56,215.73 L177.69,215.75 L177.82,215.78 L177.95,215.81 L178.08,215.84 L178.21,215.86 L178.33,215.89 L178.46,215.91 L178.59,215.94 L178.72,215.97 L178.85,215.99 L178.97,216.02 L179.10,216.04 L179.23,216.06 L179.36,216.09 L179.49,216.11 L179.62,216.13 L179.74,216.16 L179.87,216.18 L180.00,216.20 L180.13,216.22 L180.26,216.24 L180.38,216.26 L180.51,216.28 L180.64,216.30 L180.77,216.32 L180.90,216.34 L181.03,216.36 L181.15,216.38 L181.28,216.40 L181.41,216.42 L181.42,216.42" stroke="#000" stroke-width="1.65" fill="none" stroke-linecap="round"/>
<path d="M185.15,216.81 L185.26,216.82 L185.39,216.83 L185.50,216.84" stroke="#000" stroke-width="1.65" fill="none" stroke-linecap="round"/>
<path d="M189.24,216.99 L189.29,217.00 L189.41,217.00 L189.53,217.00 L189.65,217.00 L189.77,217.00 L189.88,217.00 L190.00,217.00 L190.11,217.00 L190.23,217.00 L190.34,217.00 L190.45,217.00 L190.56,217.00 L190.66,216.99 L190.77,216.99 L190.87,216.99 L190.97,216.99 L191.08,216.98 L191.18,216.98 L191.28,216.98 L191.38,216.97 L191.48,216.97 L191.57,216.97 L191.67,216.96 L191.77,216.96 L191.87,216.95 L191.96,216.95 L192.06,216.94 L192.16,216.94 L192.25,216.93 L192.35,216.92 L192.45,216.92 L192.55,216.91 L192.64,216.90 L192.74,216.90 L192.84,216.89 L192.94,216.88 L193.04,216.87 L193.14,216.87 L193.25,216.86 L193.35,216.85 L193.46,216.84 L193.56,216.83 L193.67,216.83 L193.78,216.82 L193.89,216.81 L194.00,216.80 L194.11,216.79 L194.22,216.78 L194.34,216.77 L194.45,216.76 L194.56,216.75 L194.67,216.74 L194.78,216.73 L194.89,216.72 L195.00,216.71 L195.12,216.70 L195.23,216.68 L195.34,216.67 L195.45,216.66 L195.56,216.65 L195.68,216.63 L195.79,216.62 L195.91,216.61 L196.02,216.60 L196.14,216.58 L196.26,216.57 L196.38,216.55 L196.50,216.54 L196.62,216.53 L196.74,216.51 L196.87,216.50 L196.99,216.49 L197.12,216.47 L197.25,216.46 L197.38,216.44 L197.51,216.43 L197.65,216.41 L197.78,216.40 L197.92,216.39 L198.06,216.37 L198.20,216.36 L198.35,216.34 L198.50,216.33 L198.58,216.32" stroke="#000" stroke-width="1.65" fill="none" stroke-linecap="round"/>
<path d="M202.32,216.03 L202.42,216.02 L202.62,216.01 L202.67,216.01" stroke="#000" stroke-width="1.65" fill="none" stroke-linecap="round"/>
<path d="M206.40,215.65 L206.50,215.64 L206.66,215.61 L206.83,215.59 L206.99,215.57 L207.15,215.54 L207.30,215.52 L207.46,215.50 L207.62,215.47 L207.77,215.45 L207.92,215.42 L208.08,215.40 L208.23,215.37 L208.38,215.34 L208.53,215.32 L208.68,215.29 L208.83,215.27 L208.98,215.24 L209.13,215.21 L209.28,215.18 L209.43,215.16 L209.58,215.13 L209.73,215.10 L209.87,215.08 L210.02,215.05 L210.17,215.02 L210.32,214.99 L210.47,214.97 L210.62,214.94 L210.77,214.91 L210.92,214.88 L211.07,214.86 L211.22,214.83 L211.38,214.80 L211.53,214.78 L211.69,214.75 L211.84,214.73 L212.00,214.70 L212.16,214.67 L212.32,214.65 L212.48,214.62 L212.64,214.59 L212.80,214.57 L212.97,214.54 L213.13,214.51 L213.30,214.48 L213.46,214.45 L213.63,214.42 L213.80,214.40 L213.97,214.37 L214.13,214.34 L214.30,214.31 L214.47,214.28 L214.64,214.25 L214.81,214.22 L214.97,214.19 L215.14,214.16 L215.31,214.14 L215.48,214.11 L215.64,214.08 L215.65,214.08" stroke="#000" stroke-width="1.65" fill="none" stroke-linecap="round"/>
<path d="M219.36,213.60 L219.38,213.60 L219.51,213.59 L219.63,213.58 L219.71,213.57" stroke="#000" stroke-width="1.65" fill="none" stroke-linecap="round"/>
<path d="M223.46,213.51 L223.47,213.51 L223.60,213.51 L223.72,213.51 L223.85,213.51 L223.97,213.52 L224.10,213.52 L224.22,213.53 L224.34,213.53 L224.47,213.54 L224.59,213.54 L224.72,213.55 L224.84,213.55 L224.97,213.56 L225.09,213.57 L225.22,213.57 L225.34,213.58 L225.47,213.59 L225.59,213.60 L225.72,213.61 L225.84,213.61 L225.97,213.62 L226.10,213.63 L226.22,213.64 L226.35,213.65 L226.47,213.66 L226.60,213.67 L226.73,213.68 L226.85,213.69 L226.98,213.70 L227.11,213.72 L227.23,213.73 L227.36,213.74 L227.49,213.75 L227.62,213.76 L227.74,213.77 L227.87,213.79 L228.00,213.80 L228.13,213.81 L228.26,213.83 L228.38,213.84 L228.51,213.85 L228.64,213.86 L228.77,213.87 L228.90,213.89 L229.02,213.90 L229.15,213.91 L229.28,213.92 L229.41,213.93 L229.53,213.95 L229.66,213.96 L229.79,213.97 L229.92,213.99 L230.05,214.00 L230.18,214.01 L230.31,214.03 L230.44,214.04 L230.56,214.06 L230.69,214.07 L230.82,214.09 L230.95,214.11 L231.09,214.13 L231.22,214.14 L231.35,214.16 L231.48,214.18 L231.61,214.20 L231.74,214.23 L231.88,214.25 L232.01,214.27 L232.15,214.30 L232.28,214.32 L232.42,214.35 L232.55,214.38 L232.69,214.41 L232.78,214.43" stroke="#000" stroke-width="1.65" fill="none" stroke-linecap="round"/>
<path d="M236.37,215.51 L236.40,215.53 L236.54,215.58 L236.69,215.63 L236.69,215.63" stroke="#000" stroke-width="1.65" fill="none" stroke-linecap="round"/>
<path d="M240.22,216.92 L240.32,216.96 L240.48,217.02 L240.63,217.08 L240.79,217.13 L240.94,217.19 L241.09,217.25 L241.25,217.31 L241.40,217.37 L241.56,217.43 L241.72,217.49 L241.87,217.55 L242.03,217.61 L242.19,217.67 L242.35,217.73 L242.51,217.80 L242.67,217.86 L242.83,217.92 L242.99,217.99 L243.15,218.05 L243.31,218.12 L243.48,218.18 L243.64,218.25 L243.81,218.31 L243.98,218.38 L244.14,218.45 L244.31,218.52 L244.48,218.59 L244.65,218.66 L244.83,218.73 L245.00,218.80 L245.17,218.87 L245.35,218.94 L245.52,219.01 L245.69,219.07 L245.86,219.14 L246.02,219.20 L246.19,219.27 L246.36,219.33 L246.53,219.39 L246.70,219.46 L246.86,219.52 L247.03,219.58 L247.20,219.64 L247.37,219.71 L247.54,219.77 L247.71,219.84 L247.89,219.90 L248.06,219.97 L248.24,220.04 L248.41,220.11 L248.59,220.18 L248.78,220.26 L248.95,220.33" stroke="#000" stroke-width="1.65" fill="none" stroke-linecap="round"/>
<path d="M252.32,221.96 L252.40,222.00 L252.63,222.13" stroke="#000" stroke-width="1.65" fill="none" stroke-linecap="round"/>
<path d="M255.87,224.02 L256.04,224.13 L256.35,224.32 L256.66,224.51 L256.97,224.70 L257.29,224.90 L257.61,225.09 L257.93,225.29 L258.25,225.50 L258.57,225.70 L258.90,225.91 L259.23,226.11 L259.56,226.32 L259.89,226.54 L260.22,226.75 L260.56,226.96 L260.89,227.18 L261.23,227.39 L261.56,227.61 L261.90,227.83 L262.24,228.05 L262.58,228.27 L262.91,228.49 L263.25,228.71 L263.59,228.93 L263.77,229.06" stroke="#000" stroke-width="1.65" fill="none" stroke-linecap="round"/>
<path d="M266.91,231.11 L267.02,231.19 L267.20,231.31" stroke="#000" stroke-width="1.65" fill="none" stroke-linecap="round"/>
<path d="M270.33,233.37 L270.65,233.58 L271.02,233.83 L271.38,234.08 L271.75,234.32 L272.12,234.58 L272.49,234.83 L272.86,235.08 L273.23,235.34 L273.60,235.59 L273.96,235.85 L274.33,236.11 L274.69,236.37 L275.06,236.63 L275.42,236.89 L275.78,237.15 L276.14,237.42 L276.50,237.68 L276.86,237.95 L277.21,238.22 L277.56,238.49 L277.91,238.76 L277.97,238.80" stroke="#000" stroke-width="1.65" fill="none" stroke-linecap="round"/>
<path d="M280.86,241.19 L281.01,241.32 L281.12,241.42" stroke="#000" stroke-width="1.65" fill="none" stroke-linecap="round"/>
<path d="M283.91,243.93 L284.10,244.11 L284.44,244.43 L284.78,244.74 L285.11,245.06 L285.45,245.38 L285.78,245.69 L286.11,246.01 L286.44,246.32 L286.77,246.63 L287.09,246.94 L287.41,247.24 L287.73,247.55 L288.05,247.85 L288.36,248.15 L288.67,248.44 L288.98,248.73 L289.28,249.02 L289.58,249.31 L289.88,249.58 L290.17,249.86 L290.46,250.13 L290.72,250.37" stroke="#000" stroke-width="1.65" fill="none" stroke-linecap="round"/>
<path d="M293.51,252.88 L293.70,253.05 L293.77,253.11" stroke="#000" stroke-width="1.65" fill="none" stroke-linecap="round"/>
<path d="M296.59,255.58 L296.70,255.69 L296.91,255.87 L297.11,256.06 L297.33,256.25 L297.54,256.44 L297.76,256.64 L297.98,256.84 L298.21,257.05 L298.45,257.26 L298.69,257.48 L298.94,257.71 L299.19,257.95 L299.45,258.19 L299.72,258.44 L300.00,258.70 L300.28,258.96 L300.56,259.22 L300.83,259.48 L301.10,259.73 L301.38,259.98 L301.65,260.24 L301.91,260.49 L302.18,260.74 L302.45,260.99 L302.72,261.24 L303.00,261.50 L303.27,261.76 L303.47,261.94" stroke="#000" stroke-width="1.65" fill="none" stroke-linecap="round"/>
<path d="M306.19,264.52 L306.24,264.56 L306.45,264.77" stroke="#000" stroke-width="1.65" fill="none" stroke-linecap="round"/>
<path d="M309.14,267.38 L309.54,267.77 L309.96,268.19 L310.40,268.62 L310.85,269.06 L311.31,269.52 L311.78,269.99 L312.27,270.48 L312.78,270.98 L313.30,271.50 L313.85,272.05 L314.42,272.62 L315.02,273.23 L315.66,273.86 L315.78,273.99" stroke="#000" stroke-width="1.65" fill="none" stroke-linecap="round"/>
<path d="M318.42,276.65 L318.67,276.90" stroke="#000" stroke-width="1.65" fill="none" stroke-linecap="round"/>
<path d="M321.30,279.57 L321.46,279.73 L322.26,280.54 L323.06,281.36 L323.88,282.18 L324.70,283.02 L325.52,283.85 L326.35,284.69 L327.17,285.54 L327.88,286.25" stroke="#000" stroke-width="1.65" fill="none" stroke-linecap="round"/>
<path d="M330.50,288.93 L330.75,289.18" stroke="#000" stroke-width="1.65" fill="none" stroke-linecap="round"/>
<path d="M333.37,291.86 L333.63,292.12 L334.39,292.89 L335.13,293.66 L335.86,294.40 L336.56,295.12 L337.25,295.83 L337.91,296.50 L338.55,297.16 L339.16,297.79 L339.74,298.39 L339.92,298.57" stroke="#000" stroke-width="1.65" fill="none" stroke-linecap="round"/>
<path d="M342.52,301.27 L342.56,301.31 L342.77,301.52" stroke="#000" stroke-width="1.65" fill="none" stroke-linecap="round"/>
<path d="M345.37,304.21 L345.39,304.23 L345.52,304.37 L345.65,304.51 L345.77,304.64 L345.89,304.77 L346.00,304.89 L346.11,305.02 L346.23,305.15 L346.35,305.28 L346.47,305.42 L346.60,305.57 L346.73,305.73 L346.88,305.89 L347.04,306.08 L347.21,306.27 L347.39,306.49 L347.59,306.72 L347.81,306.98 L348.05,307.25 L348.31,307.56 L348.60,307.88 L348.91,308.24 L349.24,308.63 L349.61,309.05 L350.00,309.50 L350.42,309.98 L350.86,310.49 L351.32,311.02 L351.54,311.27" stroke="#000" stroke-width="1.65" fill="none" stroke-linecap="round"/>
<path d="M353.99,314.11 L354.21,314.38" stroke="#000" stroke-width="1.65" fill="none" stroke-linecap="round"/>
<path d="M356.66,317.23 L356.74,317.33 L357.35,318.04 L357.97,318.76 L358.60,319.50 L359.23,320.24 L359.87,320.98 L360.51,321.74 L361.16,322.50 L361.82,323.26 L362.47,324.03 L362.74,324.35" stroke="#000" stroke-width="1.65" fill="none" stroke-linecap="round"/>
<path d="M365.18,327.21 L365.41,327.47" stroke="#000" stroke-width="1.65" fill="none" stroke-linecap="round"/>
<path d="M367.84,330.32 L368.38,330.95 L369.02,331.70 L369.66,332.45 L370.29,333.18 L370.91,333.91 L371.52,334.62 L372.12,335.33 L372.72,336.02 L373.30,336.70 L373.88,337.37 L373.94,337.44" stroke="#000" stroke-width="1.65" fill="none" stroke-linecap="round"/>
<path d="M376.38,340.29 L376.61,340.55" stroke="#000" stroke-width="1.65" fill="none" stroke-linecap="round"/>
<path d="M379.06,343.39 L379.15,343.49 L379.74,344.17 L380.33,344.85 L380.91,345.53 L381.50,346.21 L382.09,346.89 L382.67,347.56 L383.25,348.24 L383.83,348.91 L384.41,349.57 L384.98,350.24 L385.19,350.48" stroke="#000" stroke-width="1.65" fill="none" stroke-linecap="round"/>
<path d="M387.64,353.32 L387.80,353.50 L387.87,353.59" stroke="#000" stroke-width="1.65" fill="none" stroke-linecap="round"/>
<path d="M390.32,356.43 L390.51,356.65 L391.04,357.26 L391.56,357.87 L392.07,358.47 L392.58,359.06 L393.08,359.64 L393.57,360.22 L394.05,360.79 L394.53,361.35 L395.00,361.90 L395.46,362.44 L395.91,362.98 L396.36,363.51 L396.40,363.56" stroke="#000" stroke-width="1.65" fill="none" stroke-linecap="round"/>
<path d="M398.80,366.44 L398.87,366.52 L399.03,366.71" stroke="#000" stroke-width="1.65" fill="none" stroke-linecap="round"/>
<path d="M401.41,369.60 L401.55,369.77 L401.91,370.22 L402.27,370.66 L402.63,371.10 L402.98,371.53 L403.34,371.96 L403.69,372.39 L404.03,372.81 L404.38,373.23 L404.73,373.65 L405.07,374.07 L405.41,374.48 L405.76,374.89 L406.10,375.31 L406.44,375.72 L406.79,376.13 L407.13,376.54 L407.38,376.83" stroke="#000" stroke-width="1.65" fill="none" stroke-linecap="round"/>
<path d="M409.83,379.67 L409.96,379.81 L410.07,379.93" stroke="#000" stroke-width="1.65" fill="none" stroke-linecap="round"/>
<path d="M412.59,382.70 L412.89,383.03 L413.25,383.42 L413.62,383.81 L413.99,384.20 L414.35,384.59 L414.72,384.97 L415.08,385.36 L415.44,385.74 L415.81,386.12 L416.17,386.50 L416.53,386.88 L416.89,387.25 L417.24,387.62 L417.60,387.99 L417.95,388.36 L418.30,388.73 L418.65,389.09 L418.99,389.46 L419.04,389.50" stroke="#000" stroke-width="1.65" fill="none" stroke-linecap="round"/>
<path d="M421.61,392.24 L421.65,392.29 L421.84,392.50" stroke="#000" stroke-width="1.65" fill="none" stroke-linecap="round"/>
<path d="M424.34,395.30 L424.35,395.31 L424.63,395.63 L424.90,395.95 L425.17,396.26 L425.43,396.57 L425.69,396.88 L425.95,397.18 L426.20,397.48 L426.45,397.78 L426.70,398.07 L426.94,398.37 L427.19,398.66 L427.43,398.95 L427.67,399.24 L427.90,399.53 L428.14,399.82 L428.37,400.11 L428.61,400.39 L428.84,400.68 L429.07,400.97 L429.30,401.25 L429.53,401.54 L429.77,401.83 L430.00,402.11 L430.23,402.40 L430.32,402.51" stroke="#000" stroke-width="1.65" fill="none" stroke-linecap="round"/>
<path d="M432.68,405.43 L432.90,405.70" stroke="#000" stroke-width="1.65" fill="none" stroke-linecap="round"/>
<path d="M435.25,408.62 L435.31,408.70 L435.58,409.04 L435.86,409.39 L436.14,409.74 L436.42,410.10 L436.70,410.45 L436.98,410.80 L437.26,411.16 L437.54,411.51 L437.81,411.86 L438.09,412.21 L438.37,412.56 L438.65,412.91 L438.92,413.26 L439.19,413.60 L439.47,413.94 L439.74,414.28 L440.00,414.61 L440.27,414.95 L440.53,415.27 L440.79,415.60 L441.05,415.91 L441.08,415.96" stroke="#000" stroke-width="1.65" fill="none" stroke-linecap="round"/>
<path d="M443.49,418.83 L443.63,419.00 L443.72,419.10" stroke="#000" stroke-width="1.65" fill="none" stroke-linecap="round"/>
<path d="M446.25,421.86 L446.28,421.89 L446.45,422.07 L446.62,422.24 L446.79,422.41 L446.95,422.58 L447.12,422.74 L447.28,422.91 L447.44,423.07 L447.60,423.23 L447.76,423.39 L447.92,423.55 L448.08,423.71 L448.24,423.86 L448.40,424.02 L448.56,424.17 L448.72,424.33 L448.87,424.49 L449.03,424.64 L449.19,424.80 L449.35,424.96 L449.51,425.12 L449.67,425.28 L449.84,425.44 L450.00,425.60 L450.16,425.76 L450.33,425.93 L450.49,426.09 L450.65,426.24 L450.81,426.40 L450.97,426.56 L451.13,426.71 L451.28,426.87 L451.44,427.02 L451.60,427.17 L451.75,427.32 L451.91,427.47 L452.06,427.62 L452.21,427.77 L452.37,427.92 L452.52,428.06 L452.67,428.21 L452.82,428.35 L452.92,428.45" stroke="#000" stroke-width="1.65" fill="none" stroke-linecap="round"/>
<path d="M455.67,431.00 L455.69,431.02 L455.85,431.16 L455.93,431.23" stroke="#000" stroke-width="1.65" fill="none" stroke-linecap="round"/>
<path d="M458.73,433.73 L458.82,433.81 L458.97,433.94 L459.13,434.08 L459.28,434.22 L459.44,434.35 L459.60,434.48 L459.75,434.62 L459.91,434.75 L460.06,434.88 L460.21,435.01 L460.37,435.14 L460.52,435.27 L460.67,435.40 L460.82,435.53 L460.97,435.65 L461.12,435.78 L461.27,435.90 L461.42,436.02 L461.56,436.14 L461.71,436.26 L461.86,436.38 L462.00,436.50 L462.14,436.62 L462.29,436.73 L462.43,436.85 L462.57,436.96 L462.71,437.08 L462.85,437.19 L462.99,437.31 L463.13,437.42 L463.26,437.54 L463.40,437.65 L463.54,437.76 L463.67,437.87 L463.81,437.98 L463.94,438.09 L464.08,438.20 L464.21,438.31 L464.34,438.41 L464.48,438.52 L464.61,438.62 L464.74,438.73 L464.87,438.83 L465.00,438.93 L465.13,439.03 L465.27,439.13 L465.40,439.22 L465.53,439.32 L465.66,439.41 L465.79,439.50 L465.91,439.59 L465.99,439.65" stroke="#000" stroke-width="1.65" fill="none" stroke-linecap="round"/>
<path d="M469.31,441.38 L469.36,441.40 L469.49,441.44 L469.61,441.49 L469.64,441.49" stroke="#000" stroke-width="1.65" fill="none" stroke-linecap="round"/>
<path d="M473.33,441.97 L473.34,441.97 L473.44,441.95 L473.55,441.94 L473.66,441.92 L473.77,441.90 L473.87,441.88 L473.98,441.86 L474.09,441.83 L474.19,441.81 L474.29,441.78 L474.40,441.75 L474.50,441.72 L474.60,441.69 L474.70,441.65 L474.80,441.61 L474.90,441.58 L475.00,441.54 L475.09,441.50 L475.19,441.45 L475.28,441.41 L475.38,441.36 L475.47,441.32 L475.56,441.27 L475.65,441.22 L475.74,441.17 L475.83,441.11 L475.91,441.06 L476.00,441.00 L476.08,440.94 L476.17,440.88 L476.25,440.82 L476.33,440.76 L476.41,440.70 L476.49,440.64 L476.57,440.58 L476.65,440.51 L476.73,440.44 L476.81,440.38 L476.88,440.31 L476.96,440.24 L477.03,440.17 L477.10,440.09 L477.17,440.02 L477.25,439.94 L477.32,439.86 L477.39,439.78 L477.45,439.70 L477.52,439.61 L477.59,439.53 L477.65,439.44 L477.72,439.35 L477.78,439.25 L477.84,439.15 L477.90,439.06 L477.96,438.95 L478.02,438.85 L478.08,438.74 L478.14,438.63 L478.19,438.52 L478.25,438.40 L478.30,438.28 L478.35,438.16 L478.41,438.04 L478.46,437.91 L478.51,437.77 L478.55,437.64 L478.60,437.50 L478.65,437.36 L478.69,437.21 L478.73,437.07 L478.77,436.92 L478.81,436.77 L478.85,436.61 L478.88,436.45 L478.92,436.30 L478.95,436.13 L478.98,435.97 L479.02,435.80 L479.05,435.63 L479.07,435.50" stroke="#000" stroke-width="1.65" fill="none" stroke-linecap="round"/>
<path d="M479.47,431.78 L479.48,431.67 L479.50,431.44 L479.50,431.43" stroke="#000" stroke-width="1.65" fill="none" stroke-linecap="round"/>
<path d="M479.74,427.69 L479.74,427.56 L479.75,427.27 L479.77,426.97 L479.78,426.67 L479.79,426.37 L479.80,426.07 L479.82,425.76 L479.83,425.45 L479.84,425.13 L479.85,424.82 L479.86,424.50 L479.87,424.18 L479.88,423.86 L479.89,423.54 L479.89,423.22 L479.90,422.89 L479.91,422.57 L479.92,422.24 L479.93,421.91 L479.93,421.59 L479.94,421.26 L479.95,420.93 L479.95,420.60 L479.96,420.27 L479.97,419.95 L479.97,419.62 L479.98,419.29 L479.98,418.97 L479.99,418.64 L479.99,418.32 L479.99,418.32" stroke="#000" stroke-width="1.65" fill="none" stroke-linecap="round"/>
<path d="M480.03,414.57 L480.03,414.27 L480.03,414.22" stroke="#000" stroke-width="1.65" fill="none" stroke-linecap="round"/>
<path d="M480.04,410.47 L480.04,410.40 L480.03,410.05 L480.03,409.71 L480.03,409.37 L480.03,409.03 L480.03,408.69 L480.03,408.36 L480.02,408.03 L480.02,407.71 L480.02,407.39 L480.02,407.07 L480.02,406.76 L480.01,406.45 L480.01,406.15 L480.01,405.85 L480.01,405.56 L480.00,405.28 L480.00,405.00 L480.00,404.73 L479.99,404.46 L479.99,404.20 L479.99,403.95 L479.98,403.70 L479.98,403.45 L479.98,403.21 L479.97,402.98 L479.97,402.75 L479.96,402.52 L479.96,402.30 L479.95,402.08 L479.95,401.86 L479.94,401.65 L479.94,401.43 L479.93,401.23 L479.93,401.09" stroke="#000" stroke-width="1.65" fill="none" stroke-linecap="round"/>
<path d="M479.82,397.43 L479.82,397.33" stroke="#000" stroke-width="1.65" fill="none" stroke-linecap="round"/>
<rect x="58.05" y="7.25" width="462.80" height="463.50" fill="none" stroke="#000" stroke-width="2.1"/>
<path d="M95.07,470.75 V466.15 M95.07,7.25 V11.85" stroke="#000" stroke-width="2"/>
<path d="M113.59,470.75 V461.05 M113.59,7.25 V16.95" stroke="#000" stroke-width="2"/>
<path d="M132.10,470.75 V466.15 M132.10,7.25 V11.85" stroke="#000" stroke-width="2"/>
<path d="M150.61,470.75 V466.15 M150.61,7.25 V11.85" stroke="#000" stroke-width="2"/>
<path d="M169.12,470.75 V466.15 M169.12,7.25 V11.85" stroke="#000" stroke-width="2"/>
<path d="M187.63,470.75 V466.15 M187.63,7.25 V11.85" stroke="#000" stroke-width="2"/>
<path d="M206.15,470.75 V461.05 M206.15,7.25 V16.95" stroke="#000" stroke-width="2"/>
<path d="M224.66,470.75 V466.15 M224.66,7.25 V11.85" stroke="#000" stroke-width="2"/>
<path d="M243.17,470.75 V466.15 M243.17,7.25 V11.85" stroke="#000" stroke-width="2"/>
<path d="M261.68,470.75 V466.15 M261.68,7.25 V11.85" stroke="#000" stroke-width="2"/>
<path d="M280.19,470.75 V466.15 M280.19,7.25 V11.85" stroke="#000" stroke-width="2"/>
<path d="M298.71,470.75 V461.05 M298.71,7.25 V16.95" stroke="#000" stroke-width="2"/>
<path d="M317.22,470.75 V466.15 M317.22,7.25 V11.85" stroke="#000" stroke-width="2"/>
<path d="M335.73,470.75 V466.15 M335.73,7.25 V11.85" stroke="#000" stroke-width="2"/>
<path d="M354.24,470.75 V466.15 M354.24,7.25 V11.85" stroke="#000" stroke-width="2"/>
<path d="M372.75,470.75 V466.15 M372.75,7.25 V11.85" stroke="#000" stroke-width="2"/>
<path d="M391.27,470.75 V461.05 M391.27,7.25 V16.95" stroke="#000" stroke-width="2"/>
<path d="M409.78,470.75 V466.15 M409.78,7.25 V11.85" stroke="#000" stroke-width="2"/>
<path d="M428.29,470.75 V466.15 M428.29,7.25 V11.85" stroke="#000" stroke-width="2"/>
<path d="M446.80,470.75 V466.15 M446.80,7.25 V11.85" stroke="#000" stroke-width="2"/>
<path d="M465.31,470.75 V466.15 M465.31,7.25 V11.85" stroke="#000" stroke-width="2"/>
<path d="M483.83,470.75 V461.05 M483.83,7.25 V16.95" stroke="#000" stroke-width="2"/>
<path d="M502.34,470.75 V466.15 M502.34,7.25 V11.85" stroke="#000" stroke-width="2"/>
<path d="M58.05,22.70 H62.65 M520.85,22.70 H516.25" stroke="#000" stroke-width="2"/>
<path d="M58.05,38.15 H62.65 M520.85,38.15 H516.25" stroke="#000" stroke-width="2"/>
<path d="M58.05,53.60 H62.65 M520.85,53.60 H516.25" stroke="#000" stroke-width="2"/>
<path d="M58.05,69.05 H62.65 M520.85,69.05 H516.25" stroke="#000" stroke-width="2"/>
<path d="M58.05,84.50 H67.75 M520.85,84.50 H511.15" stroke="#000" stroke-width="2"/>
<path d="M58.05,99.95 H62.65 M520.85,99.95 H516.25" stroke="#000" stroke-width="2"/>
<path d="M58.05,115.40 H62.65 M520.85,115.40 H516.25" stroke="#000" stroke-width="2"/>
<path d="M58.05,130.85 H62.65 M520.85,130.85 H516.25" stroke="#000" stroke-width="2"/>
<path d="M58.05,146.30 H62.65 M520.85,146.30 H516.25" stroke="#000" stroke-width="2"/>
<path d="M58.05,161.75 H67.75 M520.85,161.75 H511.15" stroke="#000" stroke-width="2"/>
<path d="M58.05,177.20 H62.65 M520.85,177.20 H516.25" stroke="#000" stroke-width="2"/>
<path d="M58.05,192.65 H62.65 M520.85,192.65 H516.25" stroke="#000" stroke-width="2"/>
<path d="M58.05,208.10 H62.65 M520.85,208.10 H516.25" stroke="#000" stroke-width="2"/>
<path d="M58.05,223.55 H62.65 M520.85,223.55 H516.25" stroke="#000" stroke-width="2"/>
<path d="M58.05,239.00 H67.75 M520.85,239.00 H511.15" stroke="#000" stroke-width="2"/>
<path d="M58.05,254.45 H62.65 M520.85,254.45 H516.25" stroke="#000" stroke-width="2"/>
<path d="M58.05,269.90 H62.65 M520.85,269.90 H516.25" stroke="#000" stroke-width="2"/>
<path d="M58.05,285.35 H62.65 M520.85,285.35 H516.25" stroke="#000" stroke-width="2"/>
<path d="M58.05,300.80 H62.65 M520.85,300.80 H516.25" stroke="#000" stroke-width="2"/>
<path d="M58.05,316.25 H67.75 M520.85,316.25 H511.15" stroke="#000" stroke-width="2"/>
<path d="M58.05,331.70 H62.65 M520.85,331.70 H516.25" stroke="#000" stroke-width="2"/>
<path d="M58.05,347.15 H62.65 M520.85,347.15 H516.25" stroke="#000" stroke-width="2"/>
<path d="M58.05,362.60 H62.65 M520.85,362.60 H516.25" stroke="#000" stroke-width="2"/>
<path d="M58.05,378.05 H62.65 M520.85,378.05 H516.25" stroke="#000" stroke-width="2"/>
<path d="M58.05,393.50 H67.75 M520.85,393.50 H511.15" stroke="#000" stroke-width="2"/>
<path d="M58.05,408.95 H62.65 M520.85,408.95 H516.25" stroke="#000" stroke-width="2"/>
<path d="M58.05,424.40 H62.65 M520.85,424.40 H516.25" stroke="#000" stroke-width="2"/>
<path d="M58.05,439.85 H62.65 M520.85,439.85 H516.25" stroke="#000" stroke-width="2"/>
<path d="M58.05,455.30 H62.65 M520.85,455.30 H516.25" stroke="#000" stroke-width="2"/>
<g opacity="0.999">
<text x="113.59" y="488.6" text-anchor="middle" font-size="13.6" textLength="22.4" lengthAdjust="spacingAndGlyphs">-2.5</text>
<text x="206.15" y="488.6" text-anchor="middle" font-size="13.6" textLength="22.4" lengthAdjust="spacingAndGlyphs">-2.0</text>
<text x="298.71" y="488.6" text-anchor="middle" font-size="13.6" textLength="22.4" lengthAdjust="spacingAndGlyphs">-1.5</text>
<text x="391.27" y="488.6" text-anchor="middle" font-size="13.6" textLength="22.4" lengthAdjust="spacingAndGlyphs">-1.0</text>
<text x="483.83" y="488.6" text-anchor="middle" font-size="13.6" textLength="22.4" lengthAdjust="spacingAndGlyphs">-0.5</text>
<text x="50.2" y="12.10" text-anchor="end" font-size="13.6" textLength="20.6" lengthAdjust="spacingAndGlyphs">-1.1</text>
<text x="50.2" y="89.35" text-anchor="end" font-size="13.6" textLength="22.4" lengthAdjust="spacingAndGlyphs">-1.2</text>
<text x="50.2" y="166.60" text-anchor="end" font-size="13.6" textLength="22.4" lengthAdjust="spacingAndGlyphs">-1.3</text>
<text x="50.2" y="243.85" text-anchor="end" font-size="13.6" textLength="22.4" lengthAdjust="spacingAndGlyphs">-1.4</text>
<text x="50.2" y="321.10" text-anchor="end" font-size="13.6" textLength="22.4" lengthAdjust="spacingAndGlyphs">-1.5</text>
<text x="50.2" y="398.35" text-anchor="end" font-size="13.6" textLength="22.4" lengthAdjust="spacingAndGlyphs">-1.6</text>
<text x="50.2" y="475.60" text-anchor="end" font-size="13.6" textLength="22.4" lengthAdjust="spacingAndGlyphs">-1.7</text>
<text x="248.1" y="509.1" font-size="16">log (M</text>
<text x="292.3" y="512.5" font-size="11">2</text>
<text x="298.6" y="509.1" font-size="16" textLength="18.3" lengthAdjust="spacingAndGlyphs">/M</text>
<circle cx="322.0" cy="509.7" r="3.55" fill="none" stroke="#000" stroke-width="0.95"/><circle cx="322.0" cy="509.7" r="1.05" fill="#000"/>
<text x="326.4" y="509.1" font-size="16">)</text>
<text transform="translate(15.9,279.8) rotate(-90)" x="0" y="0" font-size="16" textLength="81.7" lengthAdjust="spacing">log (R<tspan font-size="11" dy="3.2">2</tspan><tspan dy="-3.2">/R</tspan><tspan font-size="11" dy="3.2">&#x2299;</tspan><tspan dy="-3.2">)</tspan></text>
<text x="99.74" y="255.02" font-size="12.0" text-anchor="middle">V396</text>
<text x="167.96" y="285.94" font-size="12.0" text-anchor="middle">GP</text>
<text x="194.31" y="316.14" font-size="12.0" text-anchor="middle">J0926</text>
<text x="195.88" y="339.58" font-size="12.0" text-anchor="middle">V803</text>
<text x="233.06" y="340.04" font-size="12.0" text-anchor="middle">CR</text>
<text x="261.74" y="331.64" font-size="12.0" text-anchor="middle">HP</text>
<text x="274.20" y="363.14" font-size="12.0" text-anchor="middle">AM</text>
<text x="344.36" y="409.74" font-size="12.0" text-anchor="middle">V407</text>
<text x="400.00" y="448.10" font-size="12.0" text-anchor="middle">HM</text>
</g>
</svg></body></html>
